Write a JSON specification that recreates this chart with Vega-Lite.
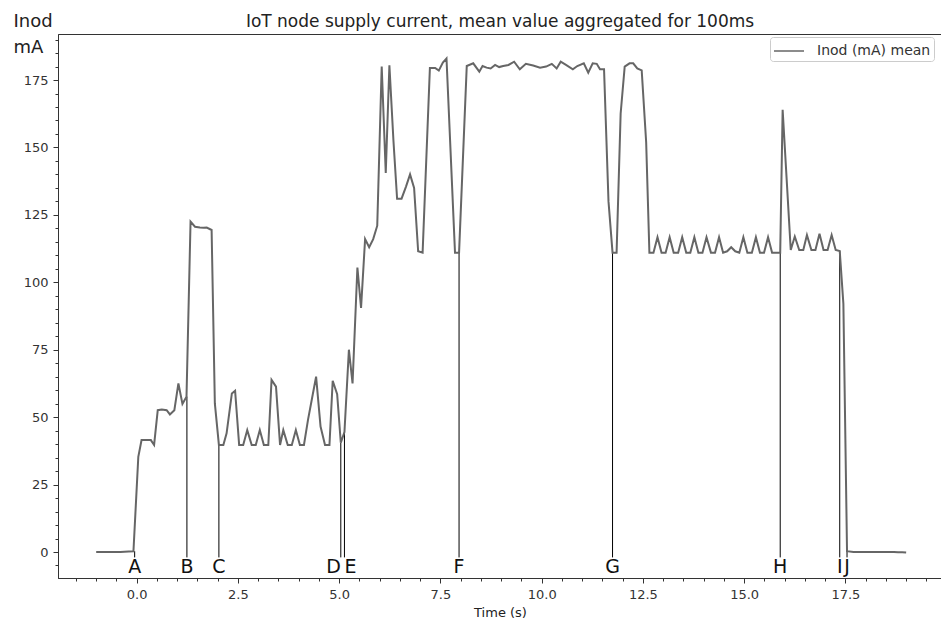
{
  "$schema": "https://vega.github.io/schema/vega-lite/v6.json",
  "width": 884,
  "height": 544,
  "autosize": {"type": "none"},
  "padding": {"left": 58, "top": 34, "right": 0, "bottom": 40},
  "background": "white",
  "config": {
    "font": "DejaVu Sans",
    "view": {"stroke": "#333", "strokeWidth": 1},
    "axis": {"grid": false}
  },
  "title": {
    "text": "IoT node supply current, mean value aggregated for 100ms",
    "fontSize": 17,
    "fontWeight": "normal",
    "color": "#222",
    "anchor": "middle",
    "frame": "group",
    "offset": -19
  },
  "resolve": {"axis": {"x": "independent", "y": "independent"}},
  "datasets": {
    "series": [
      {"t": -1.0, "I": 0}, {"t": -0.9, "I": 0}, {"t": -0.8, "I": 0}, {"t": -0.7, "I": 0},
      {"t": -0.6, "I": 0}, {"t": -0.5, "I": 0}, {"t": -0.4, "I": 0}, {"t": -0.3, "I": 0.1},
      {"t": -0.2, "I": 0.2}, {"t": -0.08, "I": 0.3}, {"t": 0.04, "I": 35.3}, {"t": 0.12, "I": 41.5},
      {"t": 0.22, "I": 41.5}, {"t": 0.35, "I": 41.5}, {"t": 0.43, "I": 39.7}, {"t": 0.52, "I": 52.6},
      {"t": 0.62, "I": 52.8}, {"t": 0.74, "I": 52.6}, {"t": 0.82, "I": 51}, {"t": 0.93, "I": 52.6},
      {"t": 1.03, "I": 62.5}, {"t": 1.13, "I": 54.9}, {"t": 1.23, "I": 57.6}, {"t": 1.33, "I": 122.5},
      {"t": 1.44, "I": 120.6}, {"t": 1.56, "I": 120.3}, {"t": 1.65, "I": 120.2}, {"t": 1.73, "I": 120.3},
      {"t": 1.85, "I": 119.4}, {"t": 1.93, "I": 55.1}, {"t": 2.03, "I": 39.7}, {"t": 2.14, "I": 39.7},
      {"t": 2.22, "I": 44}, {"t": 2.35, "I": 58.8}, {"t": 2.43, "I": 59.8}, {"t": 2.53, "I": 39.7},
      {"t": 2.63, "I": 39.7}, {"t": 2.73, "I": 45.2}, {"t": 2.84, "I": 39.7}, {"t": 2.94, "I": 39.7},
      {"t": 3.04, "I": 45.2}, {"t": 3.14, "I": 39.7}, {"t": 3.25, "I": 39.7}, {"t": 3.33, "I": 63.8},
      {"t": 3.44, "I": 61.3}, {"t": 3.54, "I": 39.7}, {"t": 3.62, "I": 45.2}, {"t": 3.73, "I": 39.7},
      {"t": 3.83, "I": 39.7}, {"t": 3.93, "I": 45.2}, {"t": 4.03, "I": 39.7}, {"t": 4.13, "I": 39.7},
      {"t": 4.23, "I": 49}, {"t": 4.33, "I": 57}, {"t": 4.43, "I": 65}, {"t": 4.54, "I": 46.5},
      {"t": 4.65, "I": 39.7}, {"t": 4.76, "I": 39.7}, {"t": 4.84, "I": 63.5}, {"t": 4.95, "I": 58.5},
      {"t": 5.04, "I": 40.5}, {"t": 5.13, "I": 44.5}, {"t": 5.24, "I": 75}, {"t": 5.33, "I": 62.5},
      {"t": 5.45, "I": 105.5}, {"t": 5.54, "I": 90.5}, {"t": 5.64, "I": 116}, {"t": 5.74, "I": 113},
      {"t": 5.84, "I": 116}, {"t": 5.94, "I": 121}, {"t": 6.05, "I": 180}, {"t": 6.15, "I": 140.5},
      {"t": 6.24, "I": 180.5}, {"t": 6.34, "I": 152.5}, {"t": 6.43, "I": 131}, {"t": 6.54, "I": 131},
      {"t": 6.65, "I": 135.5}, {"t": 6.75, "I": 140}, {"t": 6.85, "I": 135}, {"t": 6.95, "I": 111.5},
      {"t": 7.06, "I": 111}, {"t": 7.24, "I": 179.5}, {"t": 7.37, "I": 179.5}, {"t": 7.46, "I": 178.5},
      {"t": 7.56, "I": 181.5}, {"t": 7.65, "I": 183}, {"t": 7.86, "I": 111}, {"t": 7.96, "I": 111},
      {"t": 8.15, "I": 180.2}, {"t": 8.31, "I": 181.2}, {"t": 8.46, "I": 178.1}, {"t": 8.54, "I": 180.2},
      {"t": 8.64, "I": 179.6}, {"t": 8.74, "I": 179.3}, {"t": 8.85, "I": 180.6}, {"t": 8.95, "I": 179.8},
      {"t": 9.05, "I": 180.2}, {"t": 9.18, "I": 180.6}, {"t": 9.32, "I": 181.8}, {"t": 9.46, "I": 179},
      {"t": 9.61, "I": 181}, {"t": 9.79, "I": 180.4}, {"t": 9.96, "I": 179.6}, {"t": 10.11, "I": 180},
      {"t": 10.25, "I": 181}, {"t": 10.37, "I": 179.3}, {"t": 10.47, "I": 181.8}, {"t": 10.6, "I": 180.6},
      {"t": 10.77, "I": 179}, {"t": 10.88, "I": 180.2}, {"t": 11.04, "I": 181.2}, {"t": 11.15, "I": 177.7},
      {"t": 11.26, "I": 181.2}, {"t": 11.36, "I": 181}, {"t": 11.44, "I": 179}, {"t": 11.54, "I": 179},
      {"t": 11.65, "I": 130}, {"t": 11.75, "I": 111}, {"t": 11.85, "I": 111}, {"t": 11.95, "I": 162.6},
      {"t": 12.05, "I": 180}, {"t": 12.17, "I": 181.2}, {"t": 12.26, "I": 181.2}, {"t": 12.36, "I": 179.3},
      {"t": 12.47, "I": 178.6}, {"t": 12.58, "I": 152}, {"t": 12.66, "I": 111}, {"t": 12.76, "I": 111},
      {"t": 12.86, "I": 116.7}, {"t": 12.96, "I": 111}, {"t": 13.06, "I": 111}, {"t": 13.16, "I": 116.7},
      {"t": 13.26, "I": 111}, {"t": 13.37, "I": 111}, {"t": 13.47, "I": 116.7}, {"t": 13.57, "I": 111},
      {"t": 13.67, "I": 111}, {"t": 13.77, "I": 116.7}, {"t": 13.87, "I": 111}, {"t": 13.97, "I": 111},
      {"t": 14.07, "I": 116.7}, {"t": 14.18, "I": 111}, {"t": 14.28, "I": 111}, {"t": 14.38, "I": 116.7},
      {"t": 14.48, "I": 111}, {"t": 14.58, "I": 111.5}, {"t": 14.68, "I": 113}, {"t": 14.78, "I": 111.5},
      {"t": 14.88, "I": 111}, {"t": 14.98, "I": 116.7}, {"t": 15.08, "I": 111}, {"t": 15.19, "I": 111},
      {"t": 15.29, "I": 116.7}, {"t": 15.39, "I": 111}, {"t": 15.49, "I": 111}, {"t": 15.59, "I": 116.7},
      {"t": 15.69, "I": 111}, {"t": 15.79, "I": 111}, {"t": 15.89, "I": 111}, {"t": 15.95, "I": 164},
      {"t": 16.05, "I": 138}, {"t": 16.15, "I": 112}, {"t": 16.25, "I": 117}, {"t": 16.36, "I": 112},
      {"t": 16.46, "I": 112}, {"t": 16.55, "I": 117.5}, {"t": 16.66, "I": 112}, {"t": 16.76, "I": 112},
      {"t": 16.86, "I": 118}, {"t": 16.96, "I": 112}, {"t": 17.06, "I": 112}, {"t": 17.16, "I": 117.5},
      {"t": 17.26, "I": 112}, {"t": 17.36, "I": 111.6}, {"t": 17.45, "I": 92}, {"t": 17.54, "I": 0.3},
      {"t": 17.7, "I": 0}, {"t": 17.8, "I": 0}, {"t": 17.9, "I": 0}, {"t": 18.0, "I": 0},
      {"t": 18.1, "I": 0}, {"t": 18.2, "I": 0}, {"t": 18.3, "I": 0}, {"t": 18.4, "I": 0},
      {"t": 18.5, "I": 0}, {"t": 18.6, "I": 0}, {"t": 18.7, "I": 0}, {"t": 18.8, "I": -0.1},
      {"t": 18.9, "I": -0.1}, {"t": 19.0, "I": -0.2}
    ],
    "markers": [
      {"label": "A", "t": -0.05, "top": 0.3},
      {"label": "B", "t": 1.24, "top": 57.6},
      {"label": "C", "t": 2.03, "top": 39.7},
      {"label": "D", "t": 5.04, "top": 40.5},
      {"label": "E", "t": 5.13, "top": 44.5},
      {"label": "F", "t": 7.96, "top": 111},
      {"label": "G", "t": 11.75, "top": 111},
      {"label": "H", "t": 15.89, "top": 111},
      {"label": "I", "t": 17.36, "top": 111.6},
      {"label": "J", "t": 17.54, "top": 0.3}
    ]
  },
  "layer": [
    {
      "data": {"name": "markers"},
      "mark": {"type": "rule", "color": "black", "strokeWidth": 1},
      "encoding": {
        "x": {
          "field": "t", "type": "quantitative",
          "scale": {"domain": [-1.943, 19.885], "nice": false, "zero": false},
          "axis": {
            "orient": "bottom", "title": null, "labels": false, "domain": false,
            "values": [-1.5,-1.0,-0.5,0.0,0.5,1.0,1.5,2.0,2.5,3.0,3.5,4.0,4.5,5.0,5.5,6.0,6.5,7.0,7.5,8.0,8.5,9.0,9.5,10.0,10.5,11.0,11.5,12.0,12.5,13.0,13.5,14.0,14.5,15.0,15.5,16.0,16.5,17.0,17.5,18.0,18.5,19.0,19.5],
            "tickSize": 3, "tickColor": "#333"
          }
        },
        "y": {
          "field": "top", "type": "quantitative",
          "scale": {"domain": [-9.64, 192.07], "nice": false, "zero": false},
          "axis": {
            "orient": "left", "title": null, "labels": false, "domain": false,
            "values": [-5,0,5,10,15,20,25,30,35,40,45,50,55,60,65,70,75,80,85,90,95,100,105,110,115,120,125,130,135,140,145,150,155,160,165,170,175,180,185,190],
            "tickSize": 3, "tickColor": "#333"
          }
        },
        "y2": {"datum": -2}
      }
    },
    {
      "data": {"name": "series"},
      "mark": {"type": "line", "strokeWidth": 2},
      "encoding": {
        "x": {
          "field": "t", "type": "quantitative",
          "axis": {
            "orient": "bottom",
            "title": "Time (s)",
            "titleFontSize": 13, "titleFontWeight": "normal", "titleColor": "#222", "titlePadding": 5,
            "values": [0, 2.5, 5, 7.5, 10, 12.5, 15, 17.5],
            "format": ".1f",
            "labelFontSize": 13, "labelColor": "#333", "labelPadding": 5, "labelOverlap": false, "labelFlush": false,
            "tickSize": 5, "tickColor": "#333", "domainColor": "#333"
          }
        },
        "y": {
          "field": "I", "type": "quantitative",
          "axis": {
            "orient": "left",
            "title": ["Inod", "mA"],
            "titleAngle": 0, "titleAlign": "left", "titleBaseline": "alphabetic",
            "titleX": -45, "titleY": -8, "titleLineHeight": 26,
            "titleFontSize": 18, "titleFontWeight": "normal", "titleColor": "#222",
            "values": [0, 25, 50, 75, 100, 125, 150, 175],
            "format": "d",
            "labelFontSize": 13, "labelColor": "#333", "labelPadding": 5, "labelOverlap": false, "labelFlush": false,
            "tickSize": 5, "tickColor": "#333", "domainColor": "#333"
          }
        },
        "color": {
          "datum": "Inod (mA) mean",
          "scale": {"range": ["#666666"]},
          "legend": {
            "title": null, "orient": "none", "legendX": 712, "legendY": 3,
            "symbolType": "M-1.5,0H1.5", "symbolSize": 400, "symbolStrokeWidth": 1.5, "symbolOffset": 5,
            "labelFontSize": 14, "labelColor": "#333", "labelOffset": 17,
            "fillColor": "white", "strokeColor": "#cccccc", "cornerRadius": 3, "padding": 3
          }
        }
      }
    },
    {
      "data": {"name": "markers"},
      "transform": [{"filter": "datum.label !== 'D' && datum.label !== 'E'"}],
      "mark": {"type": "text", "fontSize": 19, "color": "#111", "align": "center", "baseline": "alphabetic"},
      "encoding": {
        "x": {"field": "t", "type": "quantitative", "axis": null},
        "y": {"datum": -7.7, "axis": null},
        "text": {"field": "label"}
      }
    },
    {
      "data": {"name": "markers"},
      "transform": [{"filter": "datum.label === 'D'"}],
      "mark": {"type": "text", "fontSize": 19, "color": "#111", "align": "right", "baseline": "alphabetic"},
      "encoding": {
        "x": {"field": "t", "type": "quantitative", "axis": null},
        "y": {"datum": -7.7, "axis": null},
        "text": {"field": "label"}
      }
    },
    {
      "data": {"name": "markers"},
      "transform": [{"filter": "datum.label === 'E'"}],
      "mark": {"type": "text", "fontSize": 19, "color": "#111", "align": "left", "baseline": "alphabetic"},
      "encoding": {
        "x": {"field": "t", "type": "quantitative", "axis": null},
        "y": {"datum": -7.7, "axis": null},
        "text": {"field": "label"}
      }
    }
  ]
}
